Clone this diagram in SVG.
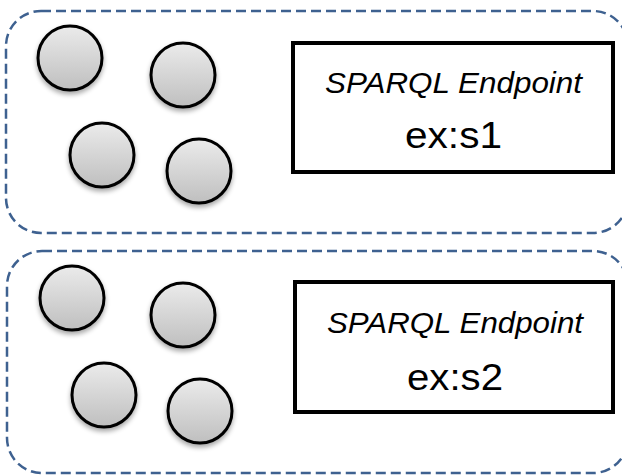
<svg xmlns="http://www.w3.org/2000/svg" width="622" height="475" viewBox="0 0 622 475">
<defs>
<linearGradient id="g" x1="0" y1="0" x2="0" y2="1">
<stop offset="0" stop-color="#ebebeb"/>
<stop offset="1" stop-color="#bfbfbf"/>
</linearGradient>
<filter id="sh" x="-30%" y="-30%" width="160%" height="170%">
<feGaussianBlur in="SourceAlpha" stdDeviation="2.5"/>
<feOffset dx="0" dy="3" result="b"/>
<feComponentTransfer><feFuncA type="linear" slope="0.35"/></feComponentTransfer>
<feMerge><feMergeNode/><feMergeNode in="SourceGraphic"/></feMerge>
</filter>
</defs>
<style>
.grp{fill:none;stroke:#3e6190;stroke-width:2.5;stroke-dasharray:10 5}
.n{fill:url(#g);stroke:#000;stroke-width:3;filter:url(#sh)}
.box{fill:#fff;stroke:#000;stroke-width:4}
.t1{font-family:"Liberation Sans",Arial,sans-serif;font-style:italic;font-size:29px;fill:#000}
.t2{font-family:"Liberation Sans",Arial,sans-serif;font-size:36px;fill:#000}
</style>
<g id="group1">
<rect class="grp" x="6" y="11" width="622" height="222" rx="35"/>
</g>
<g id="group2">
<rect class="grp" x="7" y="251" width="621" height="222" rx="35"/>
</g>
<g id="n1"><circle class="n" cx="70" cy="58" r="32"/></g>
<g id="n2"><circle class="n" cx="183" cy="75" r="32"/></g>
<g id="n3"><circle class="n" cx="102" cy="155" r="32"/></g>
<g id="n4"><circle class="n" cx="199" cy="171" r="32"/></g>
<g id="n5"><circle class="n" cx="72" cy="298" r="32"/></g>
<g id="n6"><circle class="n" cx="183" cy="315" r="32"/></g>
<g id="n7"><circle class="n" cx="104" cy="395" r="32"/></g>
<g id="n8"><circle class="n" cx="200" cy="411" r="32"/></g>
<g id="s1">
<rect class="box" x="293" y="43" width="320" height="129"/>
<text class="t1" x="325" y="93" textLength="257" lengthAdjust="spacingAndGlyphs">SPARQL Endpoint</text>
<text class="t2" x="405" y="148" textLength="97" lengthAdjust="spacingAndGlyphs">ex:s1</text>
</g>
<g id="s2">
<rect class="box" x="295" y="282" width="318" height="130"/>
<text class="t1" x="327" y="333" textLength="256" lengthAdjust="spacingAndGlyphs">SPARQL Endpoint</text>
<text class="t2" x="407" y="390" textLength="96" lengthAdjust="spacingAndGlyphs">ex:s2</text>
</g>
<g id="connectors"/>
</svg>
